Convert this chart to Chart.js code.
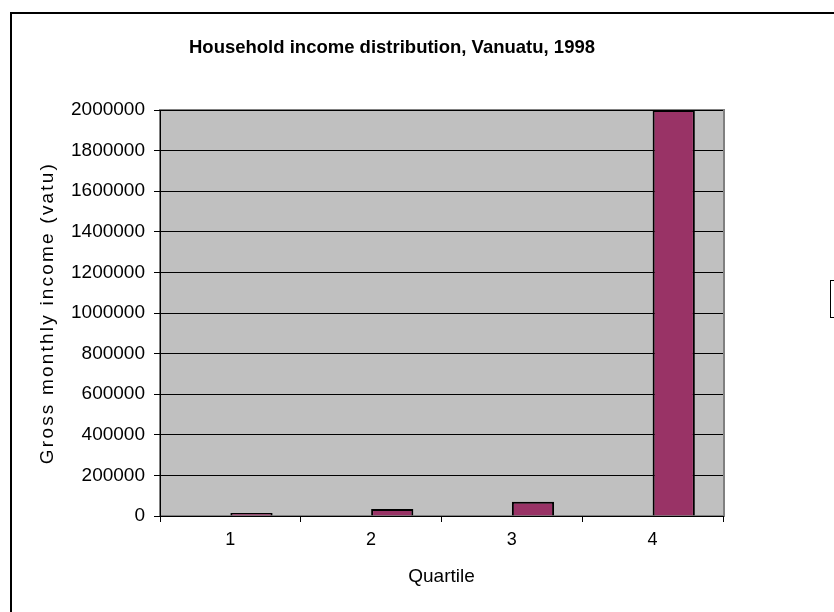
<!DOCTYPE html>
<html>
<head>
<meta charset="utf-8">
<title>Household income distribution, Vanuatu, 1998</title>
<script src="https://cdn.jsdelivr.net/npm/chart.js@4.4.1/dist/chart.umd.min.js"></script>
<style>
    html, body { margin: 0; padding: 0; background: #fff; overflow: hidden; }
    #frame { position: absolute; left: 10px; top: 12px; width: 900px; height: 700px; border: 2px solid #000; box-sizing: border-box; }
    #wrap { position: absolute; left: 0; top: 0; width: 834px; height: 612px; }
</style>
</head>
<body>
<div id="frame"></div>
<div id="wrap"><canvas id="incomeChart"></canvas></div>
<script>
// Chart data
const quartiles = ['1', '2', '3', '4'];
const seriesEmpty = [null, null, null, null];
const grossIncome = [15000, 35000, 70000, 2000000];
const yTicks = [0, 200000, 400000, 600000, 800000, 1000000, 1200000, 1400000, 1600000, 1800000, 2000000];

const FONT = 'Liberation Sans, Arial, sans-serif';

// Grey Excel-style plot area with a thin border
const plotBackground = {
    id: 'plotBackground',
    beforeDraw(chart) {
        const { ctx, chartArea } = chart;
        ctx.save();
        ctx.fillStyle = '#c0c0c0';
        ctx.fillRect(chartArea.left, chartArea.top, chartArea.width, chartArea.height);
        ctx.strokeStyle = '#808080';
        ctx.lineWidth = 2;
        ctx.strokeRect(chartArea.left, chartArea.top, chartArea.width + 1, chartArea.height);
        ctx.restore();
    },
    afterDraw(chart) {
        // legend box, cut off by the right edge of the picture
        const { ctx, chartArea } = chart;
        ctx.save();
        ctx.strokeStyle = '#000';
        ctx.lineWidth = 1;
        ctx.strokeRect(chartArea.right + 107.5, 280.5, 80, 37);
        ctx.restore();
    }
};

const ctx = document.getElementById('incomeChart');
new Chart(ctx, {
    type: 'bar',
    data: {
        labels: quartiles,
        datasets: [{
            label: 'Series1',
            data: seriesEmpty,
            backgroundColor: '#9999ff',
            borderColor: '#000',
            borderWidth: 2
        }, {
            label: 'Series2',
            data: grossIncome,
            backgroundColor: '#993366',
            borderColor: '#000',
            borderWidth: 2
        }]
    },
    options: {
        responsive: true,
        maintainAspectRatio: false,
        animation: false,
        categoryPercentage: 0.6,
        barPercentage: 1,
        layout: {
            padding: { left: 61, right: 111, top: 0, bottom: 0 }
        },
        plugins: {
            legend: { display: false },
            tooltip: { enabled: false },
            title: {
                display: true,
                text: 'Household income distribution, Vanuatu, 1998',
                color: '#000',
                font: { family: FONT, size: 18.5, weight: 'bold' },
                padding: { top: 36.9, bottom: 50.9 }
            }
        },
        scales: {
            x: {
                offset: true,
                grid: {
                    offset: true,
                    drawOnChartArea: false,
                    drawTicks: true,
                    tickLength: 6,
                    color: '#000'
                },
                border: { color: '#000', width: 1 },
                ticks: {
                    color: '#000',
                    padding: 7,
                    font: { family: FONT, size: 18 }
                },
                title: {
                    display: true,
                    text: 'Quartile',
                    color: '#000',
                    font: { family: FONT, size: 19 },
                    padding: { top: 0, bottom: 23.6 }
                },
                afterFit(scale) { scale.height = 96; }
            },
            y: {
                min: 0,
                max: 2000000,
                grid: {
                    color: '#000',
                    tickLength: 6,
                    drawTicks: true
                },
                border: { color: '#000', width: 1 },
                afterBuildTicks(scale) {
                    scale.ticks = yTicks.map(v => ({ value: v }));
                },
                ticks: {
                    color: '#000',
                    padding: 9,
                    font: { family: FONT, size: 19 },
                    callback: v => String(v)
                },
                title: {
                    display: true,
                    text: 'Gross monthly income (vatu)',
                    color: '#000',
                    font: { family: FONT, size: 19 },
                    padding: { top: -24.4, bottom: 0 }
                },
                afterFit(scale) {
                    scale.width = 99;
                    // rotated title is spaced out wider in the original
                    if (!scale._spacedTitle) {
                        const drawTitle = scale.drawTitle;
                        scale.drawTitle = function() {
                            this.ctx.save();
                            this.ctx.letterSpacing = '2.2px';
                            drawTitle.call(this);
                            this.ctx.restore();
                        };
                        scale._spacedTitle = true;
                    }
                }
            }
        }
    },
    plugins: [plotBackground]
});
</script>
</body>
</html>
